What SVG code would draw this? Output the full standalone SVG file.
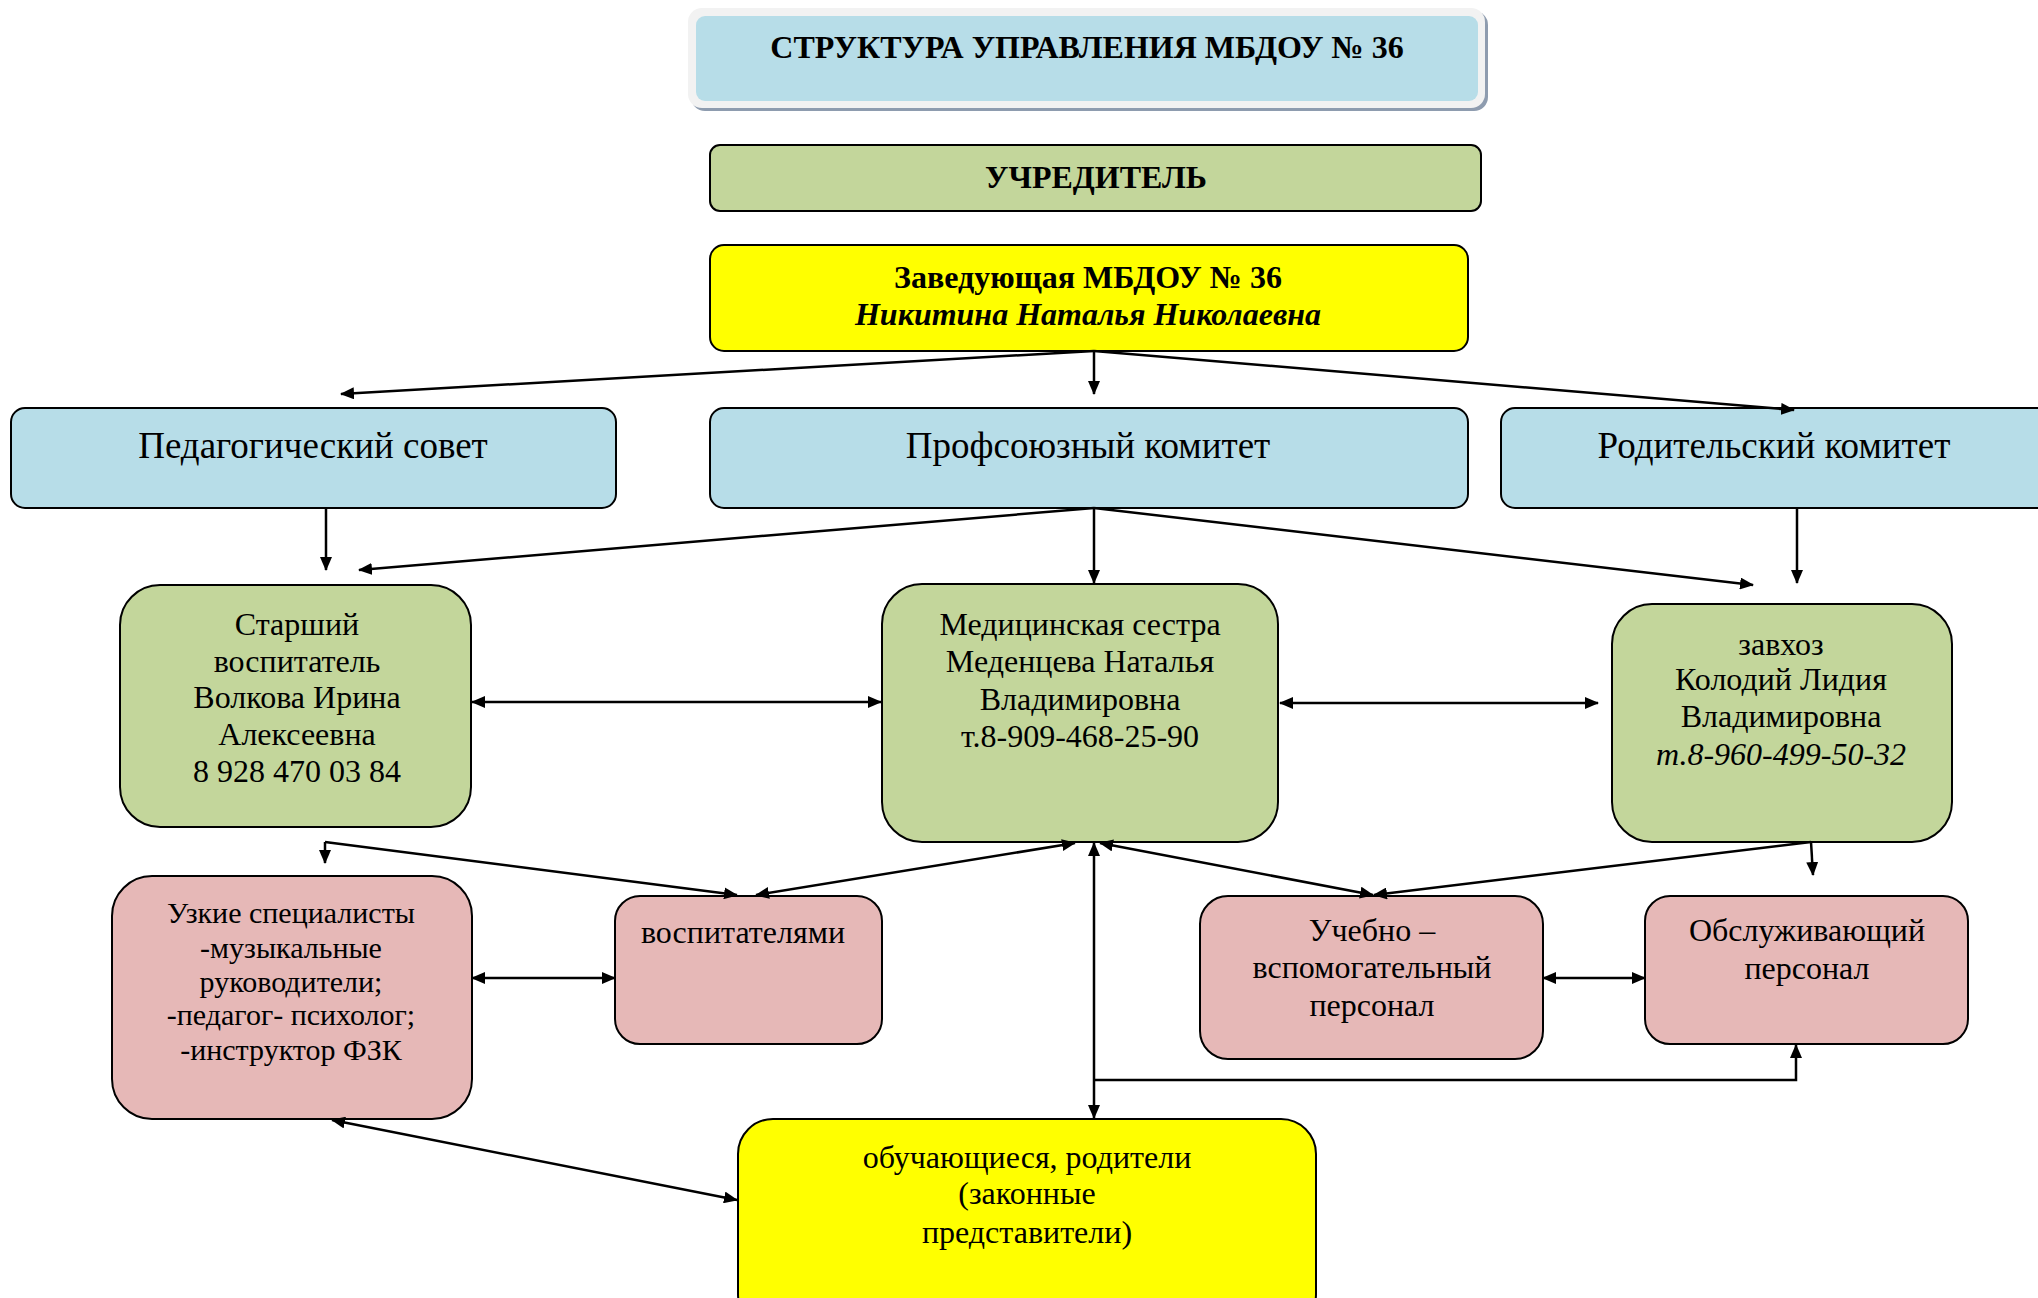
<svg xmlns="http://www.w3.org/2000/svg" width="2038" height="1298" viewBox="0 0 2038 1298">
<defs>
<style>
.b{stroke:#000;stroke-width:2}
.blue{fill:#B7DDE8}
.green{fill:#C3D69B}
.yellow{fill:#FFFF00}
.pink{fill:#E6B8B7}
text{font-family:"Liberation Serif","Times New Roman",serif;fill:#000;text-anchor:middle}
.t1{font-size:37px}
.t2{font-size:32px}
.t3{font-size:32px}
.t4{font-size:30px}
.bold{font-size:32px;font-weight:bold}
.c{fill:none;stroke:#000;stroke-width:2.5}
.a{marker-end:url(#ah)}
.d{marker-end:url(#ah);marker-start:url(#ah)}
</style>
<marker id="ah" markerUnits="userSpaceOnUse" viewBox="0 0 14 12" markerWidth="14" markerHeight="12" refX="13" refY="6" orient="auto-start-reverse">
<path d="M0,0 L14,6 L0,12 z" fill="#000"/>
</marker>
</defs>
<rect width="2038" height="1298" fill="#fff"/>

<g id="title">
<rect x="691" y="11" width="797" height="100" rx="14" fill="#8E9CAF"/>
<rect x="688" y="8" width="797" height="100" rx="14" fill="#F2F2F2"/>
<rect x="696" y="16" width="782" height="85" rx="9" fill="#B7DDE8"/>
<text x="1087" y="58" class="bold" font-size="33">СТРУКТУРА УПРАВЛЕНИЯ МБДОУ № 36</text>
</g>

<g id="uchreditel">
<rect x="710" y="145" width="771" height="66" rx="10" class="b green"/>
<text x="1096" y="188" class="bold">УЧРЕДИТЕЛЬ</text>
</g>

<g id="zaveduyushchaya">
<rect x="710" y="245" width="758" height="106" rx="14" class="b yellow"/>
<text x="1088" y="288" class="bold">Заведующая МБДОУ № 36</text>
<text x="1088" y="325" class="bold" font-style="italic">Никитина Наталья Николаевна</text>
</g>

<g id="ped-sovet">
<rect x="11" y="408" width="605" height="100" rx="14" class="b blue"/>
<text x="313" y="458" class="t1">Педагогический совет</text>
</g>

<g id="profkom">
<rect x="710" y="408" width="758" height="100" rx="14" class="b blue"/>
<text x="1088" y="458" class="t1">Профсоюзный комитет</text>
</g>

<g id="rodkom">
<rect x="1501" y="408" width="560" height="100" rx="14" class="b blue"/>
<text x="1774" y="458" class="t1">Родительский комитет</text>
</g>

<g id="starshiy">
<rect x="120" y="585" width="351" height="242" rx="40" class="b green"/>
<text class="t2"><tspan x="297" y="635">Старший</tspan><tspan x="297" y="672">воспитатель</tspan><tspan x="297" y="708">Волкова Ирина</tspan><tspan x="297" y="745">Алексеевна</tspan><tspan x="297" y="782">8 928 470 03 84</tspan></text>
</g>

<g id="medsestra">
<rect x="882" y="584" width="396" height="258" rx="40" class="b green"/>
<text class="t2"><tspan x="1080" y="635">Медицинская сестра</tspan><tspan x="1080" y="672">Меденцева Наталья</tspan><tspan x="1080" y="710">Владимировна</tspan><tspan x="1080" y="747">т.8-909-468-25-90</tspan></text>
</g>

<g id="zavhoz">
<rect x="1612" y="604" width="340" height="238" rx="40" class="b green"/>
<text class="t2"><tspan x="1781" y="655">завхоз</tspan><tspan x="1781" y="690">Колодий Лидия</tspan><tspan x="1781" y="727">Владимировна</tspan><tspan x="1781" y="765" font-style="italic">т.8-960-499-50-32</tspan></text>
</g>

<g id="uzkie">
<rect x="112" y="876" width="360" height="243" rx="40" class="b pink"/>
<text class="t4"><tspan x="291" y="923">Узкие специалисты</tspan><tspan x="291" y="958">-музыкальные</tspan><tspan x="291" y="992">руководители;</tspan><tspan x="291" y="1025">-педагог- психолог;</tspan><tspan x="291" y="1060">-инструктор ФЗК</tspan></text>
</g>

<g id="vospitateli">
<rect x="615" y="896" width="267" height="148" rx="25" class="b pink"/>
<text x="743" y="943" class="t3">воспитателями</text>
</g>

<g id="uchebno">
<rect x="1200" y="896" width="343" height="163" rx="28" class="b pink"/>
<text class="t3"><tspan x="1372" y="941">Учебно –</tspan><tspan x="1372" y="978">вспомогательный</tspan><tspan x="1372" y="1016">персонал</tspan></text>
</g>

<g id="obsluzh">
<rect x="1645" y="896" width="323" height="148" rx="25" class="b pink"/>
<text class="t3"><tspan x="1807" y="941">Обслуживающий</tspan><tspan x="1807" y="979">персонал</tspan></text>
</g>

<g id="obuch">
<rect x="738" y="1119" width="578" height="210" rx="35" class="b yellow"/>
<text class="t3"><tspan x="1027" y="1168">обучающиеся, родители</tspan><tspan x="1027" y="1204">(законные</tspan><tspan x="1027" y="1243">представители)</tspan></text>
</g>

<g id="connectors">
<path class="c a" d="M1094,351 L1094,394"/>
<path class="c a" d="M1094,351 L341,394"/>
<path class="c a" d="M1094,351 L1794,410"/>
<path class="c a" d="M326,508 L326,570"/>
<path class="c a" d="M1094,508 L359,570"/>
<path class="c a" d="M1094,508 L1094,583"/>
<path class="c a" d="M1094,508 L1753,585"/>
<path class="c a" d="M1797,508 L1797,583"/>
<path class="c d" d="M472,702 L881,702"/>
<path class="c d" d="M1280,703 L1598,703"/>
<path class="c a" d="M325,842 L325,863"/>
<path class="c a" d="M325,842 L737,895"/>
<path class="c d" d="M756,895 L1075,843"/>
<path class="c d" d="M1100,843 L1373,895"/>
<path class="c a" d="M1811,842 L1374,895"/>
<path class="c a" d="M1811,842 L1813,875"/>
<path class="c d" d="M1094,843 L1094,1118"/>
<path class="c a" d="M1094,1080 L1796,1080 L1796,1045"/>
<path class="c d" d="M472,978 L615,978"/>
<path class="c d" d="M1543,978 L1645,978"/>
<path class="c d" d="M332,1120 L737,1200"/>
</g>
</svg>
